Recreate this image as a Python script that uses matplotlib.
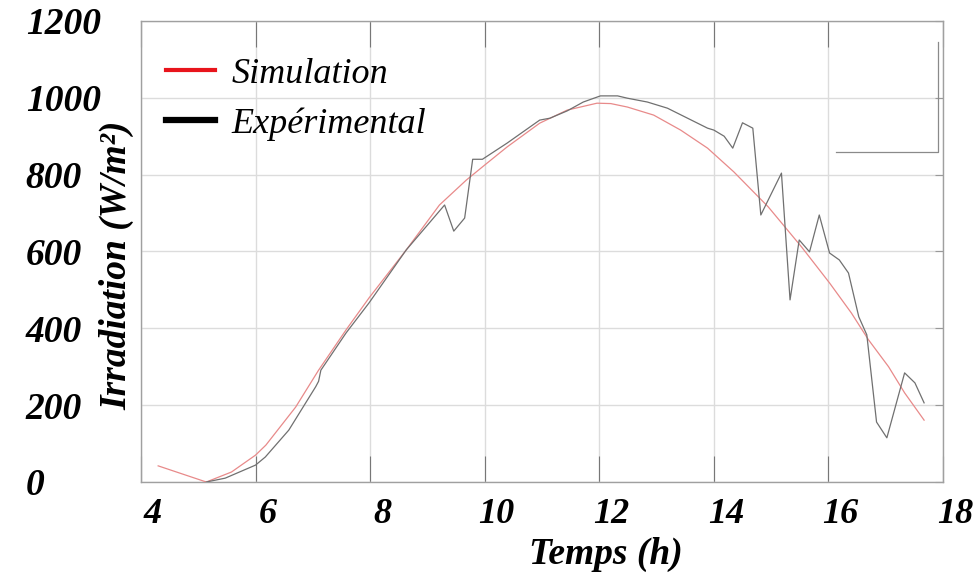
import matplotlib
matplotlib.use("Agg")
import matplotlib.pyplot as plt
import matplotlib.transforms as mtransforms
from matplotlib.lines import Line2D

# simulated irradiation (red)
sim_t = [4.3, 5.14, 5.58, 6.0, 6.18, 6.7, 7.1, 7.58, 7.98, 8.63, 9.21, 9.68,
         10.0, 10.39, 10.96, 11.44, 11.96, 12.2, 12.49, 12.95, 13.42, 13.89,
         14.35, 14.95, 15.53, 16.02, 16.4, 16.7, 17.05, 17.33, 17.67]
sim_irr = [42, 0, 26, 70, 96, 195, 291, 396, 479, 604, 721, 786,
           825, 872, 934, 968, 986, 985, 976, 955, 916, 869,
           807, 716, 612, 518, 440, 370, 300, 232, 161]

# measured irradiation (black)
exp_t = [5.14, 5.47, 6.0, 6.17, 6.58, 7.05, 7.1, 7.14, 7.58, 7.98, 8.63, 9.3,
         9.46, 9.65, 9.79, 9.96, 10.39, 10.96, 11.14, 11.44, 11.72, 12.02,
         12.32, 12.49, 12.84, 13.19, 13.54, 13.89, 14.0, 14.18, 14.33, 14.5,
         14.68, 14.82, 15.18, 15.33, 15.49, 15.67, 15.84, 16.02, 16.19, 16.35,
         16.53, 16.67, 16.84, 17.02, 17.33, 17.51, 17.67]
exp_irr = [0, 10, 44, 65, 135, 248, 262, 291, 388, 466, 604, 721,
           653, 687, 840, 840, 882, 942, 947, 966, 989, 1005,
           1005, 999, 989, 973, 947, 921, 916, 900, 869, 935,
           921, 695, 804, 474, 630, 599, 695, 596, 578, 544,
           430, 383, 156, 115, 284, 258, 206]

x_ticks = [4, 6, 8, 10, 12, 14, 16, 18]
y_ticks = [0, 200, 400, 600, 800, 1000, 1200]

# leftover legend-box edge seen top right (axes fraction)
box_x = [0.867, 0.994, 0.994]
box_y = [0.716, 0.716, 0.954]

FONT = "Liberation Serif"

fig = plt.figure(figsize=(9.77, 5.81), dpi=100)
ax = fig.add_axes([0.1443, 0.1704, 0.8209, 0.7935])

ax.plot(sim_t, sim_irr, color="#e88a8a", lw=0.9, zorder=3)
ax.plot(exp_t, exp_irr, color="#707070", lw=0.9, zorder=4)
ax.plot(box_x, box_y, color="#8a8a8a", lw=0.9, transform=ax.transAxes)

ax.set_xlim(4, 18)
ax.set_ylim(0, 1200)
ax.set_xticks(x_ticks)
ax.set_yticks(y_ticks)
ax.grid(True, color="#dcdcdc", lw=1.0)
ax.set_axisbelow(True)
for s in ax.spines.values():
    s.set_color("#a0a0a0")
    s.set_linewidth(1.0)

ax.tick_params(axis="x", direction="in", length=19, width=0.8, color="#777",
               top=True, bottom=True, pad=11.5)
ax.tick_params(axis="y", direction="in", length=6, width=0.8, color="#999",
               left=False, right=True, pad=83)
shift = mtransforms.ScaledTranslation(12 / 100, 0, fig.dpi_scale_trans)
for lab in ax.get_xticklabels():
    lab.set_fontfamily(FONT)
    lab.set_fontsize(26)
    lab.set_fontweight("bold")
    lab.set_fontstyle("italic")
    lab.set_transform(lab.get_transform() + shift)
for lab in ax.get_yticklabels():
    lab.set_fontfamily(FONT)
    lab.set_fontsize(27)
    lab.set_fontweight("bold")
    lab.set_fontstyle("italic")
    lab.set_ha("left")

ax.set_xlabel("Temps (h)", family=FONT, fontsize=27, fontweight="bold",
              fontstyle="italic")
ax.xaxis.set_label_coords(0.58, -0.118)
ax.set_ylabel("Irradiation (W/m²)", family=FONT, fontsize=27, fontweight="bold",
              fontstyle="italic")
ax.yaxis.set_label_coords(-0.008, 0.47)

handles = [Line2D([], [], color="#e8141c", lw=3),
           Line2D([], [], color="black", lw=4.5)]
ax.legend(handles, ["Simulation", "Expérimental"], loc="upper left",
          bbox_to_anchor=(0.0, 0.975), frameon=False, handlelength=1.35,
          handletextpad=0.45, labelspacing=0.45, borderaxespad=0.3,
          prop={"family": FONT, "size": 26, "style": "italic"})

fig.savefig("out.png", dpi=100)
